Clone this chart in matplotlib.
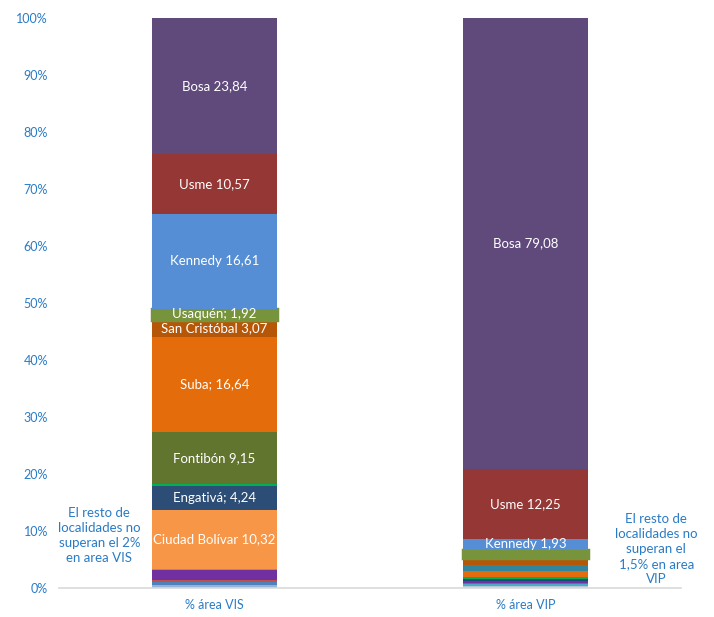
import matplotlib.pyplot as plt
import numpy as np

plt.rcParams['font.family'] = ['Lato', 'DejaVu Sans']

categories = ['% área VIS', '% área VIP']

# segmentos de abajo hacia arriba
vis_labels = ['', '', '', '', '', 'Ciudad Bolívar 10,32', 'Engativá; 4,24', '',
              'Fontibón 9,15', 'Suba; 16,64', 'San Cristóbal 3,07', 'Usaquén; 1,92',
              'Kennedy 16,61', 'Usme 10,57', 'Bosa 23,84']
vis_values = [0.5, 0.6, 0.3, 1.7, 0.25, 10.32, 4.24, 0.3,
              9.15, 16.64, 3.07, 1.92, 16.61, 10.57, 23.84]
vis_colors = ['#95B3D7', '#4F81BD', '#C0504D', '#7030A0', '#4BACC6', '#F79646', '#2C4D75', '#00B050',
              '#62752F', '#E46C0A', '#B65708', '#77933C', '#558ED5', '#953735', '#604A7B']

vip_labels = ['', '', '', '', '', '', '', '', '', '',
              'Kennedy 1,93', 'Usme 12,25', 'Bosa 79,08']
vip_values = [0.3, 0.35, 0.2, 0.3, 0.35, 0.4, 1.1, 1.1, 1.1, 1.54,
              1.93, 12.25, 79.08]
vip_colors = ['#B7C7DB', '#4BACC6', '#C0504D', '#7030A0', '#1F497D', '#00B050', '#E46C0A', '#31859C', '#B65708', '#77933C',
              '#558ED5', '#953735', '#604A7B']

blue = '#2A7BC6'

fig = plt.figure(figsize=(7.14, 6.17), dpi=100)
ax = fig.add_axes([0.0826, 0.047, 0.8714, 0.9238])

for i, (labels, values, colors) in enumerate([(vis_labels, vis_values, vis_colors),
                                              (vip_labels, vip_values, vip_colors)]):
    bottom = 0
    for lab, v, c in zip(labels, values, colors):
        lw = 2.5 if c == '#77933C' else 0
        ax.bar(i, v, 0.4, bottom=bottom, color=c, edgecolor=c, linewidth=lw)
        if lab:
            ax.text(i, bottom + v / 2, lab, ha='center', va='center', color='white', fontsize=9.5)
        bottom += v

ax.text(-0.37, 9.2, 'El resto de\nlocalidades no\nsuperan el 2%\nen area VIS', ha='center', va='center',
        color=blue, fontsize=9.5, linespacing=1.3)
ax.text(1.42, 6.8, 'El resto de\nlocalidades no\nsuperan el\n1,5% en area\nVIP', ha='center', va='center',
        color=blue, fontsize=9.5, linespacing=1.3)

ax.set_xlim(-0.5, 1.5)
ax.set_ylim(0, 100)
ax.set_yticks(np.arange(0, 101, 10))
ax.set_yticklabels([f'{t}%' for t in range(0, 101, 10)])
ax.set_xticks([0, 1])
ax.set_xticklabels(categories)
ax.tick_params(axis='both', length=0, colors=blue, labelsize=9)
ax.tick_params(axis='y', pad=8)
ax.tick_params(axis='x', pad=8)
for s in ['top', 'right', 'left']:
    ax.spines[s].set_visible(False)
ax.spines['bottom'].set_color('#D9D9D9')
ax.spines['bottom'].set_linewidth(1.2)
ax.set_axisbelow(True)

fig.savefig('out.png', dpi=100)
